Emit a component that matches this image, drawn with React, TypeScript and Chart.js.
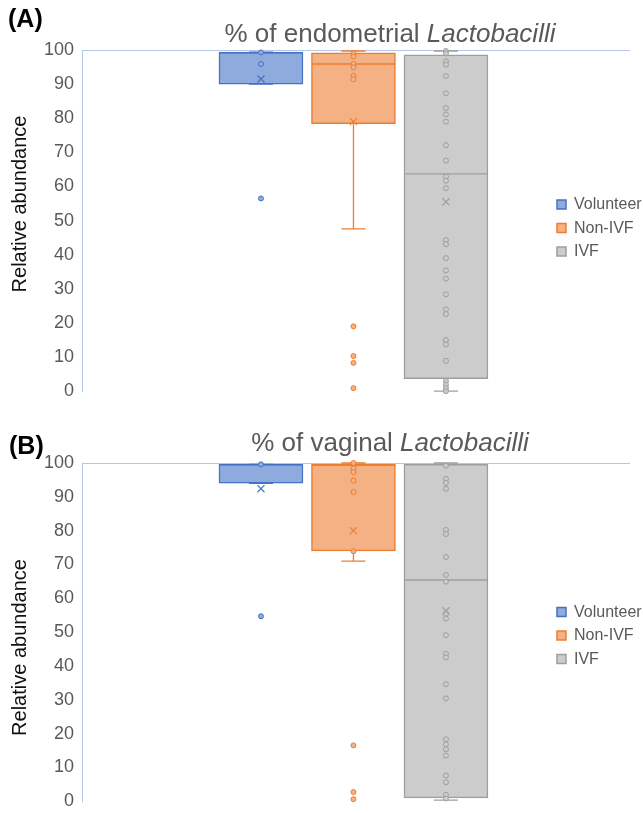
import React, { useEffect, useRef } from 'react';
import { Chart, registerables } from 'chart.js';

Chart.register(...registerables);

const FONT = "'Liberation Sans', Arial, sans-serif";

// ---------- shared ----------
const groups = ['Volunteer', 'Non-IVF', 'IVF'];
const groupX = [1, 2, 3];
const fillColors = ['#8faadc', '#f4b183', '#cccccc'];
const lineColors = ['#4472c4', '#ed7d31', '#9e9e9e'];
const yTickValues = [0, 10, 20, 30, 40, 50, 60, 70, 80, 90, 100];
const yAxisTitle = 'Relative abundance';

// ---------- panel A: endometrial ----------
const endoLabel = '(A)';
const endoTitle = '% of endometrial ';
const endoTitleItalic = 'Lactobacilli';
const endoQ1 = [90.0, 78.4, 3.7];
const endoMedian = [99.2, 95.9, 63.7];
const endoQ3 = [99.4, 99.2, 98.6];
const endoWhiskerLow = [90.0, 47.6, 0.0];
const endoWhiskerHigh = [99.4, 99.7, 99.7];
const endoMean = [91.5, 79.0, 55.5];
const endoVolunteerPoints = [99.3, 95.9, 56.5];
const endoNonIvfPoints = [99.0, 98.1, 95.9, 94.9, 92.4, 91.4, 19.0, 10.3, 8.3, 0.9];
const endoIvfPoints = [
  99.7, 99.0, 96.7, 95.7, 92.4, 87.3, 83.0, 81.1, 79.0, 72.1, 67.6, 62.9, 61.7, 59.5,
  44.3, 43.1, 39.0, 35.4, 33.0, 28.4, 24.0, 22.6, 15.0, 13.7, 8.9, 3.0, 1.9, 0.9, 0.0,
];

// ---------- panel B: vaginal ----------
const vagLabel = '(B)';
const vagTitle = '% of vaginal ';
const vagTitleItalic = 'Lactobacilli';
const vagQ1 = [94.0, 74.0, 1.0];
const vagMedian = [99.5, 99.3, 65.4];
const vagQ3 = [99.6, 99.6, 99.6];
const vagWhiskerLow = [94.0, 71.0, 0.3];
const vagWhiskerHigh = [99.6, 100.0, 100.0];
const vagMean = [92.4, 80.0, 56.3];
const vagVolunteerPoints = [99.6, 54.7];
const vagNonIvfPoints = [100.0, 98.4, 97.3, 94.8, 91.4, 73.9, 16.5, 2.7, 0.6];
const vagIvfPoints = [
  99.2, 95.3, 94.1, 92.4, 80.2, 79.0, 72.2, 66.9, 64.9, 55.4, 54.0, 49.1, 43.6, 42.5,
  34.6, 30.4, 18.3, 16.8, 15.4, 13.5, 7.6, 5.6, 1.9, 0.8,
];

const BOX_HALF = 0.454;
const CAP_HALF = 0.13;

function buildDatasets(
  q1: number[], med: number[], q3: number[], lo: number[], hi: number[], mean: number[], pts: number[][]
) {
  const ds: any[] = [];
  groups.forEach((g, i) => {
    ds.push({
      type: 'bar',
      label: g,
      data: [{ x: groupX[i], y: [q1[i], q3[i]] }],
      backgroundColor: fillColors[i],
      borderColor: lineColors[i],
      borderWidth: 1.5,
      borderSkipped: false,
      grouped: false,
      barThickness: 84,
      maxBarThickness: 84,
      order: 3,
    });
  });
  groups.forEach((g, i) => {
    const c = groupX[i];
    ds.push({
      type: 'line',
      label: g + ' whiskers',
      data: [
        { x: c - CAP_HALF, y: hi[i] }, { x: c + CAP_HALF, y: hi[i] }, { x: c, y: null },
        { x: c, y: hi[i] }, { x: c, y: q3[i] }, { x: c, y: null },
        { x: c, y: q1[i] }, { x: c, y: lo[i] }, { x: c, y: null },
        { x: c - CAP_HALF, y: lo[i] }, { x: c + CAP_HALF, y: lo[i] }, { x: c, y: null },
        { x: c - BOX_HALF, y: med[i] }, { x: c + BOX_HALF, y: med[i] },
      ],
      borderColor: lineColors[i],
      borderWidth: 1.3,
      pointRadius: 0,
      spanGaps: false,
      tension: 0,
      clip: false,
      order: 2,
    });
  });
  groups.forEach((g, i) => {
    ds.push({
      type: 'scatter',
      label: g + ' points',
      data: pts[i].map((v) => ({ x: groupX[i], y: v })),
      pointStyle: 'circle',
      pointRadius: 2.5,
      pointBorderWidth: 1,
      pointBackgroundColor: fillColors[i],
      pointBorderColor: lineColors[i],
      clip: false,
      order: 1,
    });
  });
  groups.forEach((g, i) => {
    ds.push({
      type: 'scatter',
      label: g + ' mean',
      data: [{ x: groupX[i], y: mean[i] }],
      pointStyle: 'crossRot',
      pointRadius: 5,
      pointBorderWidth: 1.2,
      pointBorderColor: lineColors[i],
      clip: false,
      order: 0,
    });
  });
  return ds;
}

const panelText = {
  id: 'panelText',
  afterDraw(chart: any, _a: any, o: any) {
    const ctx = chart.ctx;
    ctx.save();
    ctx.textAlign = 'left';
    ctx.textBaseline = 'alphabetic';
    ctx.fillStyle = '#000000';
    ctx.font = `bold 25px ${FONT}`;
    ctx.fillText(o.label, o.labelX, o.labelY);

    ctx.font = `26px ${FONT}`;
    const w1 = ctx.measureText(o.title).width;
    ctx.font = `italic 26px ${FONT}`;
    const w2 = ctx.measureText(o.titleItalic).width;
    const x0 = o.titleX - (w1 + w2) / 2;
    ctx.fillStyle = '#595959';
    ctx.font = `26px ${FONT}`;
    ctx.fillText(o.title, x0, o.titleY);
    ctx.font = `italic 26px ${FONT}`;
    ctx.fillText(o.titleItalic, x0 + w1, o.titleY);

    ctx.translate(o.yTitleX, o.yTitleY);
    ctx.rotate(-Math.PI / 2);
    ctx.font = `20px ${FONT}`;
    ctx.fillStyle = '#111111';
    ctx.textAlign = 'center';
    ctx.textBaseline = 'middle';
    ctx.fillText(yAxisTitle, 0, 0);
    ctx.restore();
  },
};

const legendPlacer = {
  id: 'legendPlacer',
  afterLayout(chart: any, _a: any, o: any) {
    const lg = chart.legend;
    if (!lg) return;
    lg.left = o.x;
    lg.right = o.x + lg.width;
    lg.top = chart.chartArea.top + o.dy;
    lg.bottom = lg.top + lg.height;
  },
};

function makeConfig(datasets: any[], padTop: number, padBottom: number, text: any, legendDy: number) {
  return {
    type: 'bar',
    data: { datasets },
    plugins: [panelText, legendPlacer],
    options: {
      responsive: false,
      animation: false,
      devicePixelRatio: 1,
      events: [],
      layout: { padding: { top: padTop, bottom: padBottom, left: 0, right: 13 } },
      scales: {
        x: {
          type: 'linear',
          display: false,
          offset: false,
          min: -0.935,
          max: 4.99,
          ticks: { stepSize: 1, includeBounds: false },
        },
        y: {
          type: 'linear',
          min: 0,
          max: 100,
          afterFit: (s: any) => { s.width = 82; },
          afterBuildTicks: (s: any) => { s.ticks = yTickValues.map((v) => ({ value: v })); },
          ticks: {
            color: '#595959',
            padding: 8,
            font: { family: FONT, size: 18 },
          },
          grid: {
            drawTicks: false,
            lineWidth: 1,
            color: (c: any) => (c.tick && c.tick.value === 100 ? '#b4c7e7' : 'rgba(0,0,0,0)'),
          },
          border: { display: true, color: '#b4c7e7', width: 1 },
        },
      },
      plugins: {
        tooltip: { enabled: false },
        title: { display: false },
        legend: {
          display: true,
          position: 'chartArea',
          labels: {
            boxWidth: 9,
            boxHeight: 9,
            padding: 7.5,
            color: '#595959',
            font: { family: FONT, size: 16 },
            filter: (item: any) => item.datasetIndex < 3,
          },
        },
        panelText: text,
        legendPlacer: { x: 549.5, dy: legendDy },
      },
    },
  };
}

function Panel({ height, config }: { height: number; config: any }) {
  const ref = useRef<HTMLCanvasElement | null>(null);
  useEffect(() => {
    if (!ref.current) return;
    const chart = new Chart(ref.current, config);
    return () => chart.destroy();
  }, []);
  return (
    <div style={{ width: 643, height, position: 'relative' }}>
      <canvas ref={ref} width={643} height={height} style={{ display: 'block', width: 643, height }} />
    </div>
  );
}

export default function App() {
  const endoCfg = makeConfig(
    buildDatasets(endoQ1, endoMedian, endoQ3, endoWhiskerLow, endoWhiskerHigh, endoMean,
      [endoVolunteerPoints, endoNonIvfPoints, endoIvfPoints]),
    50, 10,
    { label: endoLabel, labelX: 8, labelY: 27, title: endoTitle, titleItalic: endoTitleItalic, titleX: 390, titleY: 42, yTitleX: 20, yTitleY: 204 },
    7.5
  );
  const vagCfg = makeConfig(
    buildDatasets(vagQ1, vagMedian, vagQ3, vagWhiskerLow, vagWhiskerHigh, vagMean,
      [vagVolunteerPoints, vagNonIvfPoints, vagIvfPoints]),
    53, 14,
    { label: vagLabel, labelX: 9, labelY: 44, title: vagTitle, titleItalic: vagTitleItalic, titleX: 390, titleY: 41, yTitleX: 20, yTitleY: 237.5 },
    3.5
  );
  return (
    <div style={{ position: 'absolute', left: 0, top: 0, width: 643, background: '#ffffff' }}>
      <Panel height={410} config={endoCfg} />
      <Panel height={410} config={vagCfg} />
    </div>
  );
}
